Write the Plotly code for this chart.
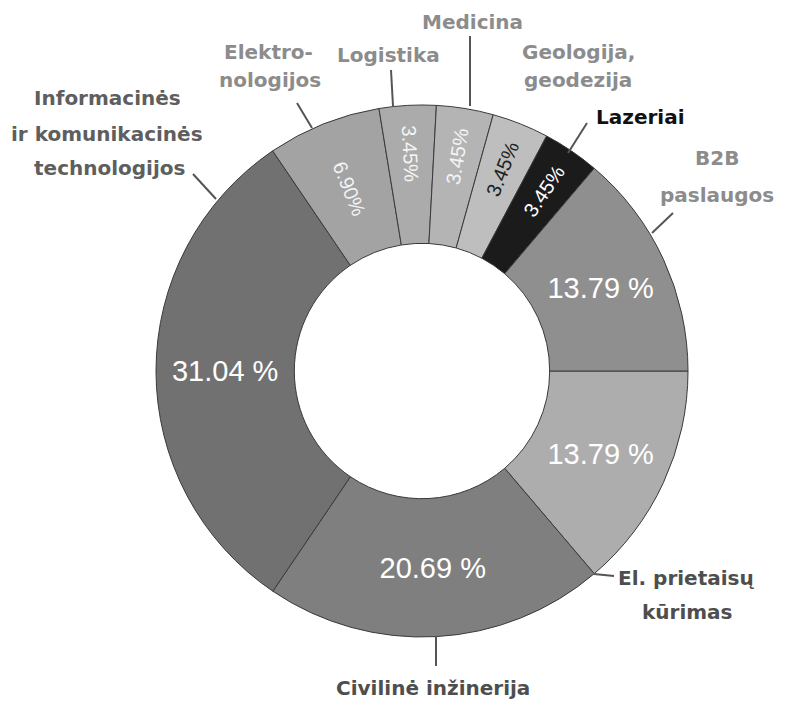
import plotly.graph_objects as go

W, H = 791, 705
OFF = 8                      # page body margin
FW, FH = W - OFF, H - OFF    # figure size so that it fits in the window


def px(x):
    return (x - OFF) / FW


def py(y):
    return 1 - (y - OFF) / FH


# ---- data (clockwise from 3 o'clock) ----
labels = ["El. prietaisų kūrimas", "Civilinė inžinerija",
          "Informacinės ir komunikacinės technologijos", "Elektronologijos",
          "Logistika", "Medicina", "Geologija, geodezija", "Lazeriai", "B2B paslaugos"]
values = [13.79, 20.69, 31.04, 6.90, 3.45, 3.45, 3.45, 3.45, 13.79]

# ---- style ----
colors = ["#adadad", "#7f7f7f", "#717171", "#a3a3a3", "#ababab", "#b4b4b4",
          "#bebebe", "#1b1b1b", "#8f8f8f"]
small_text_colors = ["white", "white", "white", "#f4f4f4", "#f4f4f4", "#f4f4f4",
                     "#222222", "white", "white"]

big_text = [f"{v:.2f} %" if v >= 10 else "" for v in values]
small_text = [f"{v:.2f}%" if v < 10 else "" for v in values]

cx, cy, R = 422, 371, 266
dom_x = [px(cx - R), px(cx + R)]
dom_y = [py(cy + R), py(cy - R)]

common = dict(labels=labels, values=values, sort=False, direction="clockwise",
              rotation=90, hole=0.48, domain=dict(x=dom_x, y=dom_y),
              textinfo="text", textposition="inside", hoverinfo="skip",
              showlegend=False)

fig = go.Figure()
fig.add_trace(go.Pie(**common, text=big_text,
                     marker=dict(colors=colors, line=dict(color="#3a3a3a", width=1)),
                     insidetextorientation="horizontal",
                     textfont=dict(family="Liberation Sans, Arial", size=29, color="white")))
fig.add_trace(go.Pie(**common, text=small_text,
                     marker=dict(colors=["rgba(0,0,0,0)"] * len(values),
                                 line=dict(width=0)),
                     insidetextorientation="radial",
                     textfont=dict(family="Liberation Sans, Arial", size=20,
                                   color=small_text_colors)))

# ---- outside labels (one annotation per line) ----
label_lines = [
    ("Informacinės", 107, 98, "#5e5e5e"),
    ("ir komunikacinės", 107, 134, "#5e5e5e"),
    ("technologijos", 110, 168, "#5e5e5e"),
    ("Elektro-", 268, 52, "#8c8c8c"),
    ("nologijos", 270, 80, "#8c8c8c"),
    ("Logistika", 388, 55, "#8c8c8c"),
    ("Medicina", 472, 22, "#8c8c8c"),
    ("Geologija,", 578, 52, "#8c8c8c"),
    ("geodezija", 578, 80, "#8c8c8c"),
    ("Lazeriai", 640, 117, "#111111"),
    ("B2B", 717, 158, "#8c8c8c"),
    ("paslaugos", 717, 195, "#8c8c8c"),
    ("El. prietaisų", 686, 578, "#4e4e4e"),
    ("kūrimas", 687, 612, "#4e4e4e"),
    ("Civilinė inžinerija", 433, 688, "#4e4e4e"),
]
for txt, x, y, col in label_lines:
    fig.add_annotation(x=px(x), y=py(y), xref="paper", yref="paper",
                       text=f"<b>{txt}</b>", showarrow=False,
                       xanchor="center", yanchor="middle",
                       font=dict(family="DejaVu Sans", size=20, color=col))

leaders = [
    (193, 174, 216, 199),
    (297, 103, 312, 128),
    (391, 70, 393, 106),
    (470, 36, 470, 106),
    (587, 123, 568, 153),
    (673, 213, 652, 233),
    (594, 574, 614, 576),
    (436, 637, 436, 666),
]
for x0, y0, x1, y1 in leaders:
    fig.add_shape(type="line", xref="paper", yref="paper",
                  x0=px(x0), y0=py(y0), x1=px(x1), y1=py(y1),
                  line=dict(color="#555555", width=2))

fig.update_layout(width=FW, height=FH, margin=dict(l=0, r=0, t=0, b=0),
                  paper_bgcolor="white", plot_bgcolor="white")
fig.write_html("out.html")
